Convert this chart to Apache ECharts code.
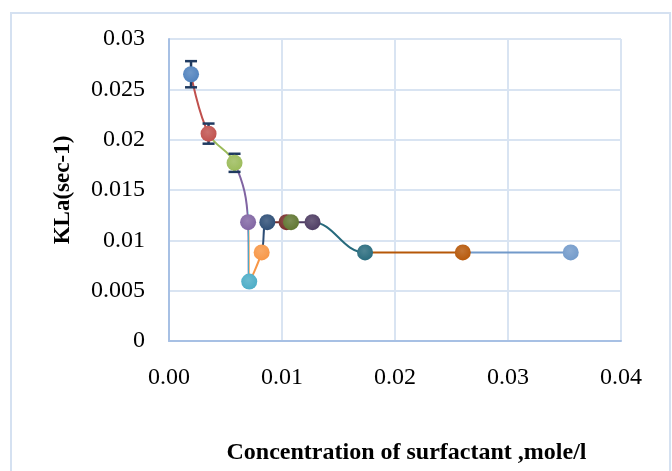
<!DOCTYPE html>
<html>
<head>
<meta charset="utf-8">
<script src="https://cdn.jsdelivr.net/npm/echarts@6/dist/echarts.min.js"></script>
<style>html,body{margin:0;padding:0;background:#fff;}#c{width:672px;height:471px;}</style>
</head>
<body>
<div id="c"></div>
<script>
// Data
var concentration = [0.00195, 0.0035, 0.0058, 0.0070, 0.0071, 0.0082, 0.0087, 0.0104, 0.0108, 0.0127, 0.01735, 0.0260, 0.03555];
var kla =           [0.0265, 0.0206, 0.0177, 0.0118, 0.0059, 0.0088, 0.0118, 0.0118, 0.0118, 0.0118, 0.0088, 0.0088, 0.0088];
var errorIdx = [0, 1, 2];
var errorVal = [0.0013, 0.0010, 0.0009];
var pointColors = ['#4F81BD','#C0504D','#9BBB59','#8064A2','#4BACC6','#F79646','#2C4D75','#772C2A','#5F7530','#4D3B62','#276A7C','#B65708','#729ACA'];
var xTicks = ['0.00','0.01','0.02','0.03','0.04'];
var yTicks = ['0','0.005','0.01','0.015','0.02','0.025','0.03'];
var xTitle = 'Concentration of surfactant ,mole/l';
var yTitle = 'KLa(sec-1)';

var pts = concentration.map(function(x, i){ return [x, kla[i]]; });

var pieces = [];
for (var i = 0; i < concentration.length; i++) {
  if (i === 0) pieces.push({lte: concentration[0], color: pointColors[0]});
  else pieces.push({gt: concentration[i-1], lte: concentration[i], color: pointColors[i]});
}
pieces.push({gt: concentration[concentration.length-1], color: pointColors[concentration.length-1]});

function lighten(hex, f){
  var r=parseInt(hex.substr(1,2),16), g=parseInt(hex.substr(3,2),16), b=parseInt(hex.substr(5,2),16);
  r=Math.round(r+(255-r)*f); g=Math.round(g+(255-g)*f); b=Math.round(b+(255-b)*f);
  return 'rgb('+r+','+g+','+b+')';
}

var markerData = pts.map(function(p, i){
  return {value: p, itemStyle: {opacity:1, color: {type:'radial', x:0.45, y:0.4, r:0.65,
    colorStops:[{offset:0,color:lighten(pointColors[i],0.18)},{offset:1,color:pointColors[i]}]}}};
});

var errData = errorIdx.map(function(idx, k){
  return [concentration[idx], kla[idx] - errorVal[k], kla[idx] + errorVal[k]];
});

var chart = echarts.init(document.getElementById('c'));
chart.setOption({
  animation: false,
  backgroundColor: '#fff',
  graphic: [{type:'rect', shape:{x:11, y:13, width:659, height:500}, style:{fill:'none', stroke:'#D5E1F1', lineWidth:2}, z:-1}],
  grid: {left:169, right:51, top:39, bottom:130},
  visualMap: {type:'piecewise', show:false, dimension:0, seriesIndex:0, pieces: pieces},
  xAxis: {
    type:'value', min:0, max:0.04, interval:0.01,
    name: xTitle, nameLocation:'middle', nameGap:100,
    nameTextStyle:{fontFamily:'Liberation Serif', fontWeight:'bold', fontSize:24, color:'#000', padding:[0,0,0,23]},
    axisLine:{show:true, lineStyle:{color:'#A7C0E4', width:2}},
    axisTick:{show:false},
    splitLine:{show:true, lineStyle:{color:'#D9E4F2', width:2}},
    axisLabel:{fontFamily:'Liberation Serif', fontSize:24, color:'#000', margin:25,
      formatter:function(v){ var i=Math.round(v/0.01); return xTicks[i]; }}
  },
  yAxis: {
    type:'value', min:0, max:0.03, interval:0.005,
    name: yTitle, nameLocation:'middle', nameGap:94,
    nameTextStyle:{fontFamily:'Liberation Serif', fontWeight:'bold', fontSize:23, color:'#000'},
    axisLine:{show:true, lineStyle:{color:'#A7C0E4', width:2}},
    axisTick:{show:false},
    splitLine:{show:true, lineStyle:{color:'#D9E4F2', width:2}},
    axisLabel:{fontFamily:'Liberation Serif', fontSize:24, color:'#000', margin:24,
      formatter:function(v){ var i=Math.round(v/0.005); return yTicks[i]; }}
  },
  series: [
    {type:'line', data: pts, smooth:0.4, showSymbol:false, lineStyle:{width:2}, z:2},
    {type:'custom', data: errData, z:3,
      renderItem: function(params, api){
        var x = api.value(0);
        var lo = api.coord([x, api.value(1)]);
        var hi = api.coord([x, api.value(2)]);
        var w = 6;
        var st = {stroke:'#1F3A60', lineWidth:2.5};
        return {type:'group', children:[
          {type:'line', shape:{x1:lo[0], y1:lo[1], x2:hi[0], y2:hi[1]}, style:st},
          {type:'line', shape:{x1:lo[0]-w, y1:lo[1], x2:lo[0]+w, y2:lo[1]}, style:st},
          {type:'line', shape:{x1:hi[0]-w, y1:hi[1], x2:hi[0]+w, y2:hi[1]}, style:st}
        ]};
      }},
    {type:'scatter', data: markerData, symbolSize:16, z:4, itemStyle:{opacity:1}}
  ]
});
</script>
</body>
</html>
